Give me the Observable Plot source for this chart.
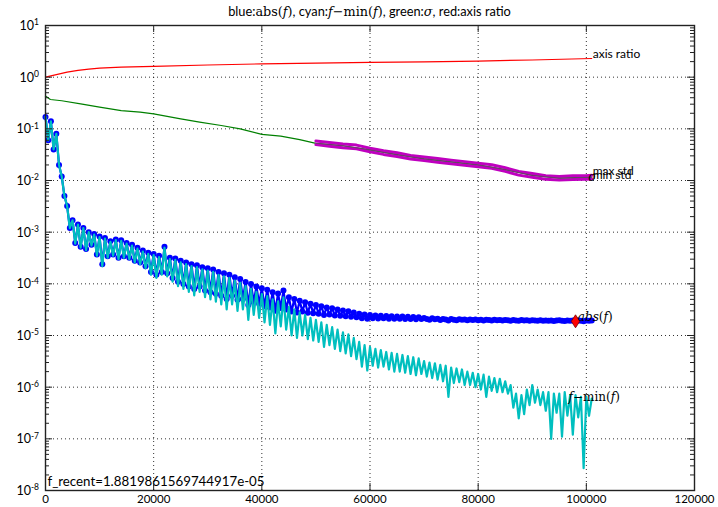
<!DOCTYPE html>
<html><head><meta charset="utf-8">
<script src="https://cdn.jsdelivr.net/npm/d3@7"></script>
<script src="https://cdn.jsdelivr.net/npm/@observablehq/plot@0.6"></script>
<style>body{margin:0;background:#fff}#chart svg{display:block}</style>
</head><body><div id="chart"></div>
<script>
// ---- tick values ----
const xTicks = [0, 20000, 40000, 60000, 80000, 100000, 120000];
const yMajor = [1e-8, 1e-7, 1e-6, 1e-5, 1e-4, 1e-3, 1e-2, 1e-1, 1e0, 1e1];

// ---- red: axis ratio ----
const redX = [0, 1000, 2000, 3000, 4000, 6000, 8000, 10000, 14000, 20000, 30000, 40000, 50000, 60000, 70000, 80000, 90000, 101000];
const redY = [1.0, 1.06, 1.12, 1.18, 1.25, 1.35, 1.43, 1.5, 1.56, 1.62, 1.72, 1.81, 1.87, 1.93, 1.98, 2.05, 2.15, 2.3];

// ---- green: sigma ----
const sigmaX = [0, 900, 3000, 6500, 10000, 14000, 17500, 20000, 25000, 28500, 32500, 36000, 40000, 43500, 47000, 50000, 55000, 60000, 65000, 70000, 75000, 80000, 85000, 90000, 95000, 101000];
const sigmaY = [0.43, 0.37, 0.35, 0.305, 0.263, 0.226, 0.21, 0.195, 0.156, 0.135, 0.116, 0.1, 0.078, 0.072, 0.062, 0.0525, 0.047, 0.039, 0.0316, 0.0263, 0.0229, 0.02, 0.0162, 0.0126, 0.0111, 0.0116];

// ---- magenta: max std / min std ----
const stdX = [50000, 52500, 55000, 57500, 60000, 62500, 65000, 67500, 70000, 72500, 75000, 77500, 80000, 82500, 85000, 87500, 90000, 92500, 95000, 97500, 100000, 101000];
const maxStd = [0.0582, 0.0543, 0.0507, 0.0484, 0.0422, 0.0376, 0.0343, 0.0305, 0.0285, 0.0266, 0.0248, 0.0232, 0.0216, 0.0202, 0.0176, 0.0150, 0.0136, 0.0124, 0.0120, 0.0123, 0.0124, 0.0126];
const minStd = [0.0495, 0.0462, 0.0432, 0.0412, 0.0359, 0.0320, 0.0292, 0.0260, 0.0243, 0.0226, 0.0211, 0.0197, 0.0184, 0.0172, 0.0150, 0.0127, 0.0116, 0.0106, 0.0102, 0.0105, 0.0106, 0.0107];

// ---- blue: abs(f), one value every blueStep evaluations ----
const blueStep = 500;
const blueF = [
  0.17, 0.06, 0.14, 0.04, 0.08, 0.02, 0.012, 0.005, 0.0032, 0.0012,
  1.7e-3, 6.2e-4, 1.4e-3, 5.2e-4, 1.2e-3, 4.7e-4, 1.0e-3, 5.7e-4, 9.2e-4, 3.7e-4,
  8.2e-4, 2.4e-4, 7.7e-4, 3.4e-4, 6.7e-4, 3.7e-4, 7.2e-4, 3.2e-4, 7e-4, 3.4e-4,
  6.2e-4, 3.2e-4, 5.7e-4, 2.8e-4, 5e-4, 2.6e-4, 4.4e-4, 2.2e-4, 4e-4, 1.7e-4,
  3.8e-4, 1.5e-4, 3.5e-4, 1.7e-4, 5.2e-4, 1.6e-4, 3.2e-4, 1.3e-4, 3.1e-4, 1.1e-4,
  2.8e-4, 9.9e-5, 2.6e-4, 8.9e-5, 2.4e-4, 7.9e-5, 2.3e-4, 8.9e-5, 2.1e-4, 7.4e-5,
  2e-4, 6.9e-5, 1.9e-4, 6.4e-5, 1.7e-4, 5.9e-5, 1.6e-4, 5.1e-5, 1.5e-4, 5.9e-5,
  1.34e-4, 4.9e-5, 1.24e-4, 5.1e-5, 1.09e-4, 3.9e-5, 9.9e-5, 4.4e-5, 8.9e-5, 4.1e-5,
  8.2e-5, 3.7e-5, 7.7e-5, 3.5e-5, 6.9e-5, 3e-5, 6.5e-5, 3.4e-5, 7.4e-5, 3.2e-5,
  5.5e-5, 2.9e-5, 5.1e-5, 2.8e-5, 4.7e-5, 2.9e-5, 4.4e-5, 2.75e-5, 4.1e-5, 2.7e-5,
  3.9e-5, 2.65e-5, 3.7e-5, 2.5e-5, 3.5e-5, 2.55e-5, 3.35e-5, 2.45e-5, 3.2e-5, 2.4e-5,
  3.05e-5, 2.35e-5, 2.95e-5, 2.3e-5, 2.8e-5, 2.25e-5, 2.65e-5, 2.15e-5, 2.55e-5, 2.11e-5,
  2.5e-5, 2.16e-5, 2.45e-5, 2.14e-5, 2.42e-5, 2.15e-5, 2.38e-5, 2.12e-5, 2.36e-5, 2.1e-5,
  2.34e-5, 2.1e-5, 2.32e-5, 2.09e-5, 2.3e-5, 2.08e-5, 2.28e-5, 2.07e-5, 2.26e-5, 2.08e-5,
  2.18e-5, 2.08e-5, 2.02e-5, 2.16e-5, 2.06e-5, 2.12e-5, 2.0e-5, 2.09e-5, 2.04e-5, 1.96e-5,
  2.09e-5, 2.02e-5, 1.98e-5, 2.07e-5, 2.01e-5, 2.05e-5, 1.97e-5, 2.03e-5, 1.99e-5, 2.04e-5,
  1.98e-5, 2.02e-5, 1.96e-5, 2.01e-5, 1.99e-5, 1.95e-5, 2.01e-5, 1.98e-5, 2.0e-5, 1.95e-5,
  2.0e-5, 1.97e-5, 1.94e-5, 1.99e-5, 1.96e-5, 1.92e-5, 2.0e-5, 1.95e-5, 1.98e-5, 1.93e-5,
  1.98e-5, 1.95e-5, 1.93e-5, 1.97e-5, 1.94e-5, 1.96e-5, 1.92e-5, 1.96e-5, 1.9e-5, 1.95e-5,
  1.97e-5, 1.93e-5, 1.9e-5, 1.96e-5, 1.94e-5, 1.96e-5, 1.9e-5, 1.95e-5, 1.93e-5, 1.88e-5,
  1.96e-5, 1.93e-5, 1.95e-5
];

// ---- cyan: f - min(f), one value every cyanStep evaluations ----
const cyanStep = 500;
const cyanF = [
  0.17, 0.06, 0.14, 0.04, 0.08, 0.02, 0.012, 0.005, 0.0032, 0.0012,
  1.7e-3, 6e-4, 1.4e-3, 5e-4, 1.2e-3, 4.5e-4, 1.0e-3, 5.5e-4, 9e-4, 3.5e-4,
  8e-4, 2.2e-4, 7.5e-4, 3.2e-4, 6.5e-4, 3.5e-4, 7e-4, 3e-4, 6.8e-4, 3.2e-4,
  6e-4, 3e-4, 5.5e-4, 2.6e-4, 4.8e-4, 2.4e-4, 4.2e-4, 2e-4, 3.8e-4, 1.5e-4,
  3.6e-4, 1.3e-4, 3.3e-4, 1.5e-4, 5e-4, 1.4e-4, 3e-4, 1.1e-4, 2.9e-4, 9e-5,
  2.6e-4, 8e-5, 2.4e-4, 7e-5, 2.2e-4, 6e-5, 2.1e-4, 7e-5, 1.9e-4, 5.5e-5,
  1.8e-4, 5e-5, 1.7e-4, 4.5e-5, 1.5e-4, 4e-5, 1.4e-4, 3.2e-5, 1.3e-4, 4e-5,
  1.15e-4, 3e-5, 1.05e-4, 3.2e-5, 9e-5, 2e-5, 8e-5, 2.5e-5, 7e-5, 2.2e-5,
  6.3e-5, 1.8e-5, 5.8e-5, 1.6e-5, 5e-5, 1.1e-5, 4.6e-5, 1.5e-5, 5.5e-5, 1.3e-5,
  3.6e-5, 1e-5, 3.2e-5, 9e-6, 2.8e-5, 1e-5, 2.5e-5, 8.5e-6, 2.2e-5, 8e-6,
  2e-5, 7.5e-6, 1.8e-5, 6e-6, 1.6e-5, 6.5e-6, 1.45e-5, 5.5e-6, 1.3e-5, 5e-6,
  1.15e-5, 4.5e-6, 1.05e-5, 4e-6, 9e-6, 3.5e-6, 7.5e-6, 2.5e-6, 6.5e-6, 2.1e-6,
  6e-6, 2.6e-6, 5.5e-6, 2.4e-6, 5.2e-6, 2.5e-6, 4.8e-6, 2.2e-6, 4.6e-6, 2e-6,
  4.4e-6, 2e-6, 4.2e-6, 1.9e-6, 4e-6, 1.8e-6, 3.8e-6, 1.7e-6, 3.6e-6, 1.8e-6,
  3.2e-6, 1.6e-6, 3e-6, 1.5e-6, 2.9e-6, 1.4e-6, 2.7e-6, 1.3e-6, 2.6e-6, 6.5e-7,
  2.4e-6, 1.2e-6, 2.3e-6, 1.25e-6, 2.2e-6, 1.1e-6, 2.0e-6, 1.1e-6, 1.9e-6, 1.0e-6,
  1.8e-6, 9e-7, 1.75e-6, 6.5e-7, 1.6e-6, 8.5e-7, 1.5e-6, 8e-7, 1.45e-6, 8e-7,
  1.3e-6, 7.5e-7, 1.1e-6, 4e-7, 7.5e-7, 2.5e-7, 7e-7, 3e-7, 9e-7, 4.5e-7,
  1.1e-6, 5e-7, 9e-7, 4.5e-7, 8e-7, 3.5e-7, 8e-7, 1e-7, 7.5e-7, 3.2e-7,
  7.5e-7, 1.1e-7, 8e-7, 2.8e-7, 7e-7, 1.2e-7, 7e-7, 2.6e-7, 6.5e-7, 2.7e-8,
  6.5e-7, 2.8e-7, 6e-7
];

// ---- most recent f value marker ----
const fRecentX = 98000;
const fRecent = 1.8819861569744917e-05;

// ---- tables ----
const pair = (xs, ys) => xs.map((x, i) => ({x, y: ys[i]}));
const redData = pair(redX, redY);
const sigmaData = pair(sigmaX, sigmaY);
const maxData = pair(stdX, maxStd);
const minData = pair(stdX, minStd);
const blueData = blueF.map((y, i) => ({x: i * blueStep, y}));
const cyanData = cyanF.map((y, i) => ({x: i * cyanStep, y}));
const last = a => a[a.length - 1];

const fmtExp = v => v.toExponential().replace(/e([+-])(\d)$/, "e$10$2");
const fRecentLabel = "f_recent=" + fmtExp(fRecent);

const SANS = "Lato, 'Open Sans', 'DejaVu Sans', sans-serif";
const SERIF = "'DejaVu Serif', 'Liberation Serif', serif";

const W = 718, H = 507, ML = 45, MR = 24, MT = 25, MB = 17;
const FW = W - ML - MR, FH = H - MT - MB;

const yMinor = d3.scaleLog().domain([1e-8, 10]).ticks().filter(v => !yMajor.some(m => Math.abs(m - v) / m < 1e-9));

const thinDiamond = {
  draw(ctx, size) {
    const r = Math.sqrt(size / Math.PI);
    const h = r * 1.3, w = r * 0.85;
    ctx.moveTo(0, -h); ctx.lineTo(w, 0); ctx.lineTo(0, h); ctx.lineTo(-w, 0); ctx.closePath();
  }
};

const grid = {stroke: "black", strokeDasharray: "1,3", strokeWidth: 0.9, strokeOpacity: 0.9};
const tk = {stroke: "#222", strokeWidth: 1};

const chart = Plot.plot({
  width: W, height: H,
  marginLeft: ML, marginRight: MR, marginTop: MT, marginBottom: MB,
  style: {fontFamily: SANS, fontSize: "11px", background: "white", color: "black"},
  x: {domain: [0, 120000], axis: null},
  y: {type: "log", domain: [1e-8, 10], axis: null},
  marks: [
    Plot.ruleX(xTicks.slice(1, -1), grid),
    Plot.ruleY(yMajor.slice(1, -1), grid),
    Plot.line(redData, {x: "x", y: "y", stroke: "#ff0000", strokeWidth: 1.2}),
    Plot.line(sigmaData, {x: "x", y: "y", stroke: "#008000", strokeWidth: 1.2}),
    Plot.line(blueData, {x: "x", y: "y", stroke: "#0000ff", strokeWidth: 2.2}),
    Plot.dot(blueData, {x: "x", y: "y", r: 3, fill: "#0000ff", stroke: null}),
    Plot.line(cyanData, {x: "x", y: "y", stroke: "#00bfbf", strokeWidth: 2.2}),
    Plot.line(maxData, {x: "x", y: "y", stroke: "#bf00bf", strokeWidth: 3}),
    Plot.line(minData, {x: "x", y: "y", stroke: "#bf00bf", strokeWidth: 3}),
    Plot.line(sigmaData.filter(d => d.x >= 50000), {x: "x", y: "y", stroke: "#6a406a", strokeWidth: 1}),
    Plot.dot([{x: fRecentX, y: fRecent}], {x: "x", y: "y", r: 5, symbol: thinDiamond, fill: "#ff0000", stroke: "#700000", strokeWidth: 0.8}),
    Plot.text([last(redData)], {x: "x", y: "y", text: () => "axis ratio", textAnchor: "start", dx: 1, dy: -4, fontSize: 12}),
    Plot.text([last(maxData)], {x: "x", y: "y", text: () => "max std", textAnchor: "start", dx: 1, dy: -4, fontSize: 12}),
    Plot.text([last(minData)], {x: "x", y: "y", text: () => "min std", textAnchor: "start", dx: 1, dy: -4, fontSize: 12}),
    Plot.text([fRecentLabel], {frameAnchor: "bottom-left", text: d => d, textAnchor: "start", dx: 2, dy: -5, fontSize: 13.3}),
    Plot.frame({stroke: "#222", strokeWidth: 1.4}),
    Plot.ruleX(xTicks, {...tk, insetTop: FH - 7}),
    Plot.ruleX(xTicks, {...tk, insetBottom: FH - 7}),
    Plot.ruleY(yMajor, {...tk, insetRight: FW - 7}),
    Plot.ruleY(yMajor, {...tk, insetLeft: FW - 7}),
    Plot.ruleY(yMinor, {...tk, insetRight: FW - 4}),
    Plot.ruleY(yMinor, {...tk, insetLeft: FW - 4}),
    Plot.axisX(xTicks, {tickSize: 0, tickPadding: 4, tickFormat: d => String(d), fontSize: 11.5, label: null})
  ]
});
document.getElementById("chart").appendChild(chart);

// ---- mixed-font texts placed through the chart's own scales ----
const svg = d3.select(chart);
const sx = chart.scale("x"), sy = chart.scale("y");

function mixed(parent, parts) {
  for (const [t, font, italic] of parts) {
    parent.append("tspan").attr("font-family", font).attr("font-style", italic ? "italic" : "normal").text(t);
  }
}

// y tick labels: 10 with superscript exponent
for (const v of yMajor) {
  const e = Math.round(Math.log10(v));
  const t = svg.append("text")
    .attr("x", ML - 6).attr("y", sy.apply(v)).attr("dy", "0.4em")
    .attr("text-anchor", "end").attr("font-family", SANS).attr("font-size", 12.5).attr("fill", "black");
  t.append("tspan").text("10");
  t.append("tspan").attr("dy", "-0.55em").attr("font-size", 8.5).text(String(e));
}

// title
const title = svg.append("text")
  .attr("x", ML + FW / 2).attr("y", 16).attr("text-anchor", "middle")
  .attr("font-size", 12.8).attr("fill", "black");
mixed(title, [
  ["blue:", SANS], ["abs(", SERIF], ["f", SERIF, true], [")", SERIF],
  [", cyan:", SANS], ["f", SERIF, true], ["\u2212min(", SERIF], ["f", SERIF, true], [")", SERIF],
  [", green:", SANS], ["\u03c3", SERIF, true], [", red:axis ratio", SANS]
]);

// end labels in math style
const lb = last(blueData), lc = last(cyanData), ls = last(sigmaData);
const absT = svg.append("text").attr("x", sx.apply(lb.x) + 4).attr("y", sy.apply(lb.y) + 1)
  .attr("font-size", 12).attr("fill", "black");
mixed(absT, [["abs", SERIF, true], ["(", SERIF], ["f", SERIF, true], [")", SERIF]]);
const fmT = svg.append("text").attr("x", sx.apply(lc.x) + 3).attr("y", sy.apply(lc.y) + 3)
  .attr("font-size", 12).attr("fill", "black");
mixed(fmT, [["f", SERIF, true], ["\u2212min(", SERIF], ["f", SERIF, true], [")", SERIF]]);
const sgT = svg.append("text").attr("x", sx.apply(ls.x) + 1).attr("y", sy.apply(ls.y) + 4)
  .attr("font-size", 12).attr("fill", "black");
mixed(sgT, [["\u03c3", SERIF, true]]);
</script>
</body></html>
